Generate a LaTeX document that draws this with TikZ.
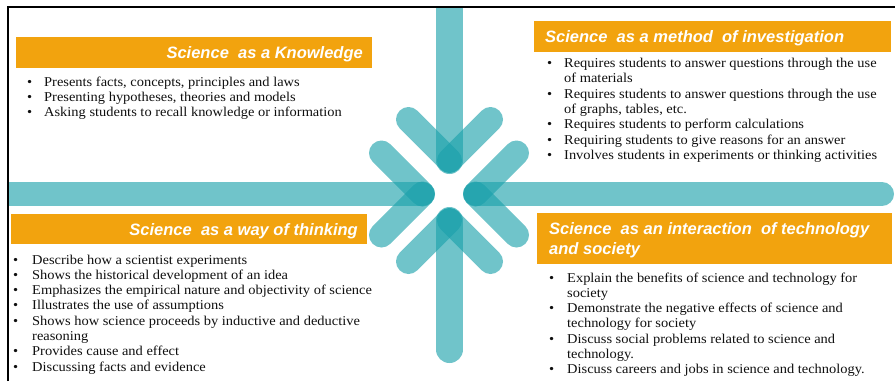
\documentclass[tikz,border=0pt]{standalone}
\usepackage{fontspec}
\setmainfont{Liberation Serif}
\newfontfamily\headfont{Liberation Sans}
\newfontfamily\bodyfont[FakeStretch=1.07]{Liberation Serif}
\definecolor{tealc}{RGB}{25,160,170}
\definecolor{orangec}{RGB}{242,163,14}
\definecolor{txtc}{RGB}{15,15,15}
\tikzset{
  shaft/.style={draw=tealc, draw opacity=0.62, line cap=round},
  arm/.style={draw=tealc, draw opacity=0.62, line cap=round, line width=25pt},
  headbox/.style={fill=orangec, draw=none},
  headtext/.style={text=white, font=\headfont\bfseries\itshape\fontsize{16.5}{19}\selectfont, inner sep=0pt},
  bul/.style={text=txtc, font=\bodyfont\fontsize{13.5}{15.3}\selectfont, inner sep=0pt, anchor=base west},
}
\newcommand{\bb}{\makebox[17pt][l]{\textbullet}}
\begin{document}
\begin{tikzpicture}[x=1pt,y=-1pt]
\useasboundingbox (0,0) rectangle (895,381);
% arrows
\begin{scope}
\clip (9,8) rectangle (895,381);
\coordinate (T) at (449.5,160.5);
\coordinate (Ts) at (449.5,-20);
\coordinate (Ta) at (408.5,119.5);
\coordinate (Tb) at (490.5,119.5);
\coordinate (B) at (449.5,220.5);
\coordinate (Bs) at (449.5,349.5);
\coordinate (Ba) at (408.5,261.5);
\coordinate (Bb) at (490.5,261.5);
\coordinate (L) at (422.5,194);
\coordinate (Ls) at (-20,194);
\coordinate (La) at (381.5,153);
\coordinate (Lb) at (381.5,235);
\coordinate (R) at (475.5,194);
\coordinate (Rs) at (882,194);
\coordinate (Ra) at (516.5,153);
\coordinate (Rb) at (516.5,235);
\draw[shaft, line width=27pt] (Ts) -- (T);
\draw[shaft, line width=27pt] (Bs) -- (B);
\draw[shaft, line width=24pt] (Ls) -- (L);
\draw[shaft, line width=24pt] (Rs) -- (R);
\foreach \p in {T,B,L,R}{
  \draw[arm] (\p a) -- (\p);
  \draw[arm] (\p b) -- (\p);
}
\end{scope}
% frame
\draw[line width=2pt] (8,381) -- (8,7) -- (895,7);
% header boxes
\fill[headbox] (16,37) rectangle (372,68);
\node[headtext, anchor=base east] (h1) at (363,58) {Science\ \ as a Knowledge};
\fill[headbox] (534,21) rectangle (891,52);
\node[headtext, anchor=base west] (h2) at (545,42.5) {Science\ \ as a method\ \ of investigation};
\fill[headbox] (11,214) rectangle (367,244);
\node[headtext, anchor=base east] (h3) at (358,235.7) {Science\ \ as a way of thinking};
\fill[headbox] (537,213) rectangle (892,264);
\node[headtext, anchor=base west] (h4a) at (549,234.3) {Science\ \ as an interaction\ \ of technology};
\node[headtext, anchor=base west] (h4b) at (549,254) {and society};
% box 1
\node[bul] (a1) at (27,86) {\bb Presents facts, concepts, principles and laws};
\node[bul] (a2) at (27,101.3) {\bb Presenting hypotheses, theories and models};
\node[bul] (a3) at (27,116.6) {\bb Asking students to recall knowledge or information};
% box 2
\node[bul] (b1) at (547,67.5) {\bb Requires students to answer questions through the use};
\node[bul] (b1b) at (564,82.8) {of materials};
\node[bul] (b2) at (547,98.1) {\bb Requires students to answer questions through the use};
\node[bul] (b2b) at (564,113.4) {of graphs, tables, etc.};
\node[bul] (b3) at (547,128.7) {\bb Requires students to perform calculations};
\node[bul] (b4) at (547,144) {\bb Requiring students to give reasons for an answer};
\node[bul] (b5) at (547,159.3) {\bb Involves students in experiments or thinking activities};
% box 3
\node[bul] (c1) at (13,264) {\makebox[19pt][l]{\textbullet}Describe how a scientist experiments};
\node[bul] (c2) at (13,279.3) {\makebox[19pt][l]{\textbullet}Shows the historical development of an idea};
\node[bul] (c3) at (13,294.6) {\makebox[19pt][l]{\textbullet}Emphasizes the empirical nature and objectivity of science};
\node[bul] (c4) at (13,309.9) {\makebox[19pt][l]{\textbullet}Illustrates the use of assumptions};
\node[bul] (c5) at (13,325.2) {\makebox[19pt][l]{\textbullet}Shows how science proceeds by inductive and deductive};
\node[bul] (c5b) at (32,340.5) {reasoning};
\node[bul] (c6) at (13,355.8) {\makebox[19pt][l]{\textbullet}Provides cause and effect};
\node[bul] (c7) at (13,371.1) {\makebox[19pt][l]{\textbullet}Discussing facts and evidence};
% box 4
\node[bul] (d1) at (549,282) {\makebox[18pt][l]{\textbullet}Explain the benefits of science and technology for};
\node[bul] (d1b) at (567,297.3) {society};
\node[bul] (d2) at (549,312.6) {\makebox[18pt][l]{\textbullet}Demonstrate the negative effects of science and};
\node[bul] (d2b) at (567,327.9) {technology for society};
\node[bul] (d3) at (549,343.2) {\makebox[18pt][l]{\textbullet}Discuss social problems related to science and};
\node[bul] (d3b) at (567,358.5) {technology.};
\node[bul] (d4) at (549,373.8) {\makebox[18pt][l]{\textbullet}Discuss careers and jobs in science and technology.};
\end{tikzpicture}
\end{document}
